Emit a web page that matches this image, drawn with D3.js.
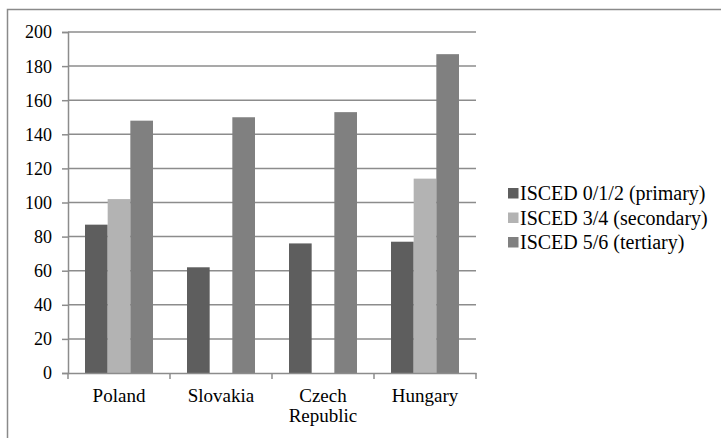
<!DOCTYPE html>
<html>
<head>
<meta charset="utf-8">
<script src="https://cdn.jsdelivr.net/npm/d3@7"></script>
</head>
<body style="margin:0">
<svg id="chart" width="721" height="438" font-family="Times New Roman" style="font-family: 'Times New Roman', 'Liberation Serif', Tinos, serif"></svg>
<script>
// Countries on the x axis (line breaks marked with \n)
const categories = ["Poland", "Slovakia", "Czech\nRepublic", "Hungary"];
// Series names
const seriesNames = ["ISCED 0/1/2 (primary)", "ISCED 3/4 (secondary)", "ISCED 5/6 (tertiary)"];
// Values per series, one per country (null = no value)
const primary   = [87, 62, 76, 77];
const secondary = [102, null, null, 114];
const tertiary  = [148, 150, 153, 187];
const seriesColors = ["#5e5e5e", "#b3b3b3", "#808080"];
// Y axis ticks
const yTicks = [0, 20, 40, 60, 80, 100, 120, 140, 160, 180, 200];

const seriesValues = [primary, secondary, tertiary];
const svg = d3.select("#chart");

// every text element gets the serif face explicitly
function serif(sel, size) {
  return sel.attr("font-family", "Times New Roman")
    .style("font-family", d => '"Times New Roman"')
    .style("font-size", size + "px");
}

// outer chart frame (top and left edges visible)
svg.append("rect")
  .attr("x", 7.5).attr("y", 9.5)
  .attr("width", 740).attr("height", 460)
  .attr("fill", "none").attr("stroke", "#8a8a8a").attr("stroke-width", 1.5);

const plot = { left: 68, right: 476, top: 32, bottom: 373 };

const y = d3.scaleLinear().domain([0, 200]).range([plot.bottom, plot.top]);
const x0 = d3.scaleBand().domain(categories).range([plot.left, plot.right]).paddingInner(0).paddingOuter(0);
// bar group occupies 2/3 of each band (gap = 1.5 bar widths)
const groupPad = 1.5 / (3 + 1.5);
const x1 = d3.scaleBand().domain(d3.range(seriesNames.length))
  .range([x0.bandwidth() * groupPad / 2, x0.bandwidth() * (1 - groupPad / 2)]);

// horizontal gridlines
svg.append("g").selectAll("line").data(yTicks.filter(d => d > 0)).join("line")
  .attr("x1", plot.left).attr("x2", plot.right)
  .attr("y1", d => y(d)).attr("y2", d => y(d))
  .attr("stroke", "#8c8c8c").attr("stroke-width", 1.5);

// y axis
const yAxis = svg.append("g").attr("transform", `translate(${plot.left},0)`)
  .call(d3.axisLeft(y).tickValues(yTicks).tickSize(6).tickPadding(10));
yAxis.attr("font-family", "Times New Roman").attr("font-size", 18);
yAxis.select(".domain").attr("stroke", "#8c8c8c").attr("stroke-width", 1.5);
yAxis.selectAll(".tick line").attr("stroke", "#8c8c8c").attr("stroke-width", 1.5);
serif(yAxis.selectAll(".tick text"), 18)
  .attr("fill", "#000")
  .attr("dy", "0.33em");

// bars
const groups = svg.append("g").selectAll("g").data(categories).join("g")
  .attr("transform", d => `translate(${x0(d)},0)`);
groups.selectAll("rect")
  .data((d, i) => seriesValues.map((vals, s) => ({ s, v: vals[i] })).filter(e => e.v !== null))
  .join("rect")
  .attr("x", d => x1(d.s))
  .attr("width", x1.bandwidth())
  .attr("y", d => y(d.v))
  .attr("height", d => y(0) - y(d.v))
  .attr("fill", d => seriesColors[d.s]);

// x axis
const xAxis = svg.append("g").attr("transform", `translate(0,${plot.bottom})`)
  .call(d3.axisBottom(x0).tickSize(0).tickFormat(""));
xAxis.select(".domain").attr("stroke", "#8c8c8c").attr("stroke-width", 1.5);
// category boundary ticks
svg.append("g").selectAll("line")
  .data(categories.map(c => x0(c)).concat([plot.right]))
  .join("line")
  .attr("x1", d => d).attr("x2", d => d)
  .attr("y1", plot.bottom).attr("y2", plot.bottom + 6)
  .attr("stroke", "#8c8c8c").attr("stroke-width", 1.5);
// category labels
serif(svg.append("g").selectAll("text").data(categories).join("text"), 19)
  .attr("x", d => x0(d) + x0.bandwidth() / 2)
  .attr("y", 402)
  .attr("text-anchor", "middle")
  .attr("fill", "#000")
  .each(function (d) {
    const lines = d.split("\n");
    d3.select(this).selectAll("tspan").data(lines).join("tspan")
      .attr("x", x0(d) + x0.bandwidth() / 2)
      .attr("dy", (l, i) => i === 0 ? 0 : 20)
      .text(l => l);
  });

// legend
const legend = svg.append("g").attr("transform", "translate(508,188)");
const row = legend.selectAll("g").data(seriesNames).join("g")
  .attr("transform", (d, i) => `translate(0,${i * 24.5})`);
row.append("rect").attr("x", 0).attr("y", 0).attr("width", 10.5).attr("height", 10.5)
  .attr("fill", (d, i) => seriesColors[i]);
serif(row.append("text"), 20)
  .attr("x", 12).attr("y", 12)
  .attr("fill", "#000")
  .text(d => d);
</script>
</body>
</html>
